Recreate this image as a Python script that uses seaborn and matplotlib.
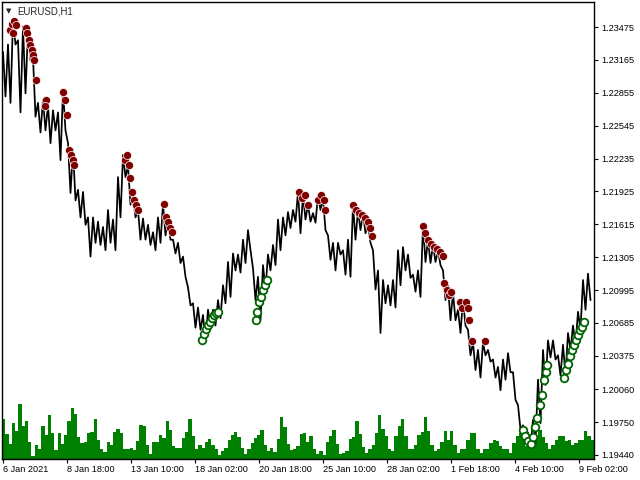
import numpy as np
import matplotlib
matplotlib.use("Agg")
import matplotlib.pyplot as plt
import seaborn as sns

# ---- price data: high / low of each 5-bar block (H1 bars) ----
seg_high = [1.2324, 1.2331, 1.2354, 1.2335, 1.2348, 1.2345, 1.2319, 1.2276, 1.2279, 1.2274,
            1.2269, 1.2267, 1.2288, 1.2238, 1.2232, 1.2194, 1.2192, 1.2168, 1.2168, 1.2164,
            1.2159, 1.2175, 1.2166, 1.2206, 1.2227, 1.2217, 1.2189, 1.2175, 1.2167, 1.2161,
            1.2154, 1.2168, 1.2181, 1.2166, 1.2147, 1.2144, 1.2131, 1.2102, 1.2087, 1.2083,
            1.2076, 1.2081, 1.2081, 1.2090, 1.2104, 1.2126, 1.2134, 1.2133, 1.2147, 1.2156,
            1.2120, 1.2112, 1.2123, 1.2133, 1.2142, 1.2166, 1.2168, 1.2173, 1.2175, 1.2192,
            1.2189, 1.2180, 1.2172, 1.2189, 1.2186, 1.2151, 1.2144, 1.2144, 1.2137, 1.2147,
            1.2180, 1.2175, 1.2172, 1.2161, 1.2137, 1.2118, 1.2109, 1.2104, 1.2109, 1.2137,
            1.2140, 1.2133, 1.2114, 1.2118, 1.2161, 1.2147, 1.2142, 1.2137, 1.2118, 1.2104,
            1.2097, 1.2081, 1.2090, 1.2062, 1.2050, 1.2043, 1.2050, 1.2043, 1.2034, 1.2027,
            1.2034, 1.2040, 1.2022, 1.1991, 1.1972, 1.1965, 1.1977, 1.2015, 1.2043, 1.2052,
            1.2052, 1.2038, 1.2048, 1.2059, 1.2066, 1.2079, 1.2109, 1.2115]
seg_low = [1.2282, 1.2276, 1.2331, 1.2267, 1.2285, 1.2316, 1.2263, 1.2248, 1.2250, 1.2238,
           1.2250, 1.2222, 1.2250, 1.2191, 1.2184, 1.2168, 1.2161, 1.2131, 1.2144, 1.2142,
           1.2137, 1.2144, 1.2137, 1.2168, 1.2206, 1.2180, 1.2168, 1.2147, 1.2147, 1.2142,
           1.2137, 1.2144, 1.2151, 1.2147, 1.2134, 1.2125, 1.2112, 1.2085, 1.2064, 1.2062,
           1.2051, 1.2064, 1.2066, 1.2073, 1.2087, 1.2093, 1.2118, 1.2116, 1.2125, 1.2137,
           1.2090, 1.2071, 1.2100, 1.2118, 1.2123, 1.2137, 1.2151, 1.2158, 1.2164, 1.2153,
           1.2166, 1.2164, 1.2163, 1.2175, 1.2156, 1.2128, 1.2118, 1.2133, 1.2114, 1.2112,
           1.2147, 1.2156, 1.2153, 1.2144, 1.2100, 1.2059, 1.2087, 1.2085, 1.2083, 1.2104,
           1.2118, 1.2111, 1.2098, 1.2093, 1.2126, 1.2125, 1.2126, 1.2123, 1.2090, 1.2071,
           1.2071, 1.2059, 1.2066, 1.2038, 1.2024, 1.2017, 1.2038, 1.2032, 1.2017, 1.2005,
           1.2015, 1.2022, 1.1996, 1.1968, 1.1955, 1.1951, 1.1955, 1.1974, 1.2010, 1.2036,
           1.2034, 1.2019, 1.2019, 1.2043, 1.2048, 1.2062, 1.2081, 1.2090]
bars_per_seg = 5

# ---- signal markers (bar index, price) ----
sell_bar = [8, 10, 12, 14, 11, 24, 25, 27, 28, 30, 31, 32, 34, 44, 43,
            61, 63, 65, 67, 69, 71, 72, 123, 125, 127, 128, 130, 132, 134, 136,
            162, 164, 166, 168, 170, 297, 300, 303, 306, 316, 319, 322, 323,
            351, 354, 357, 360, 363, 366, 368, 370, 421, 423, 426, 429, 432, 435, 438, 441,
            442, 445, 447, 449, 458, 460, 464, 466, 467, 470, 483]
sell_price = [1.2345, 1.2350, 1.2353, 1.2349, 1.2342, 1.2347, 1.2342, 1.2335, 1.2331, 1.2326,
              1.2321, 1.2316, 1.2298, 1.2279, 1.2273, 1.2286, 1.2279, 1.2265, 1.2232, 1.2227,
              1.2222, 1.2217, 1.2222, 1.2227, 1.2217, 1.2205, 1.2192, 1.2184, 1.2180, 1.2175,
              1.2181, 1.2168, 1.2164, 1.2158, 1.2154, 1.2192, 1.2186, 1.2189, 1.2180,
              1.2184, 1.2189, 1.2184, 1.2175, 1.2180, 1.2175, 1.2172, 1.2170, 1.2167, 1.2164,
              1.2158, 1.2150, 1.2160, 1.2153, 1.2147, 1.2143, 1.2140, 1.2138, 1.2135, 1.2132,
              1.2106, 1.2100, 1.2095, 1.2098, 1.2088, 1.2083, 1.2088, 1.2083, 1.2071,
              1.2051, 1.2051]
buy_bar = [200, 202, 204, 206, 208, 210, 212, 214, 216, 254, 255, 257, 259, 261, 263, 265,
           521, 523, 526, 529, 531, 533, 535, 538, 540, 542, 544, 545,
           562, 564, 566, 568, 570, 572, 574, 576, 578, 580, 582]
buy_price = [1.2052, 1.2058, 1.2063, 1.2067, 1.2069, 1.2073, 1.2076, 1.2078, 1.2079,
             1.2071, 1.2079, 1.2088, 1.2093, 1.2100, 1.2104, 1.2109,
             1.1968, 1.1962, 1.1957, 1.1954, 1.1961, 1.1970, 1.1979,
             1.1991, 1.2001, 1.2015, 1.2022, 1.2029,
             1.2017, 1.2024, 1.2030, 1.2037, 1.2043, 1.2048, 1.2052, 1.2057, 1.2062, 1.2065, 1.2069]

# ---- tick volume (hundreds), 6 Jan -> 25 Jan and 25 Jan -> 9 Feb ----
vol_early = [40, 25, 15, 36, 28, 55, 33, 38, 17, 3, 14, 10, 33, 24, 44, 26, 9, 26, 15, 24,
             38, 51, 45, 22, 16, 17, 26, 27, 40, 19, 10, 7, 17, 14, 27, 30, 26, 10, 10, 11,
             9, 18, 34, 33, 14, 5, 17, 17, 24, 21, 38, 29, 13, 11, 11, 21, 27, 40, 23, 10,
             14, 11, 17, 20, 14, 10, 4, 8, 11, 19, 24, 27, 22, 11, 5, 10, 16, 21, 24, 29,
             14, 8, 11, 7, 20, 42, 32, 15, 9, 10, 13, 25]
vol_late = [26, 17, 23, 10, 5, 8, 4, 17, 23, 29, 15, 5, 6, 8, 20, 22, 38, 25, 12, 6,
            10, 14, 26, 44, 30, 23, 10, 8, 23, 33, 40, 23, 10, 10, 14, 24, 27, 42, 28, 14,
            8, 10, 17, 28, 19, 28, 14, 6, 10, 10, 19, 26, 26, 10, 6, 10, 10, 16, 19, 18,
            13, 10, 10, 6, 16, 23, 26, 25, 13, 13, 16, 22, 29, 22, 16, 10, 14, 19, 23, 23,
            18, 19, 14, 16, 19, 19, 28, 23, 19]

tick_bars = [1, 65, 129, 193, 257, 321, 385, 449, 513, 577]
tick_labels = ["6 Jan 2021", "8 Jan 18:00", "13 Jan 10:00", "18 Jan 02:00", "20 Jan 18:00",
               "25 Jan 10:00", "28 Jan 02:00", "1 Feb 18:00", "4 Feb 10:00", "9 Feb 02:00"]
price_ticks = [1.23475, 1.23165, 1.22855, 1.22545, 1.22235, 1.21925, 1.21615, 1.21305,
               1.20995, 1.20685, 1.20375, 1.20060, 1.19750, 1.19440]

# ---- style ----
sns.set_style("white")
plt.rcParams['font.family'] = ['Liberation Sans', 'DejaVu Sans']

fig = plt.figure(figsize=(6.4, 4.8), dpi=100)
rect = [2 / 640, 21 / 480, 592 / 640, 457 / 480]
ax_vol = fig.add_axes(rect)
ax = fig.add_axes(rect)
ax.patch.set_visible(False)

n_bars = 592

# volume in background
vol = np.array(vol_early + vol_late)
vol_x = np.arange(len(vol)) * n_bars / len(vol)
ax_vol.bar(vol_x, vol, width=n_bars / len(vol), align='edge', color='#008000', linewidth=0)
ax_vol.set_xlim(0, n_bars)
ax_vol.set_ylim(0, 457)
ax_vol.axis('off')

# price path: high/low zigzag inside each block
seg_start = np.arange(len(seg_high)) * bars_per_seg
px = np.column_stack([seg_start + 1, seg_start + 3.5]).ravel()
py = np.column_stack([seg_high, seg_low]).ravel()
sns.lineplot(x=px, y=py, ax=ax, color='black', linewidth=1.25, estimator=None, sort=False)

# signals
sns.scatterplot(x=sell_bar, y=sell_price, ax=ax, s=34, color='#800000',
                edgecolor='white', linewidth=0.5, zorder=3)
sns.scatterplot(x=buy_bar, y=buy_price, ax=ax, s=30, color='white',
                edgecolor='#006400', linewidth=1.3, zorder=3)

ax.set_xlim(0, n_bars)
ax.set_ylim(1.19402, 1.23711)

ax.yaxis.tick_right()
ax.set_yticks(price_ticks)
ax.set_yticklabels([f"{t:.5f}" for t in price_ticks])
ax.set_xticks(tick_bars)
ax.set_xticklabels(tick_labels, ha='left')
ax.tick_params(axis='y', right=True, left=False, labelright=True, labelleft=False,
               direction='out', length=3, width=0.8, pad=2, labelsize=6.6, colors='black')
ax.tick_params(axis='x', bottom=True, direction='out', length=3, width=0.8, pad=1.5,
               labelsize=6.6, colors='black')
ax.set_xlabel("")
ax.set_ylabel("")
for sp in ax.spines.values():
    sp.set_visible(True)
    sp.set_color('black')
    sp.set_linewidth(1.0)

# symbol caption
fig.text(9 / 640, 1 - 11 / 480, "\u25BC", fontsize=5, ha='center', va='center',
         family=['DejaVu Sans'])
fig.text(17 / 640, 1 - 11 / 480, "EURUSD,H1", fontsize=6.9, ha='left', va='center')

fig.savefig("out.png", dpi=100)
